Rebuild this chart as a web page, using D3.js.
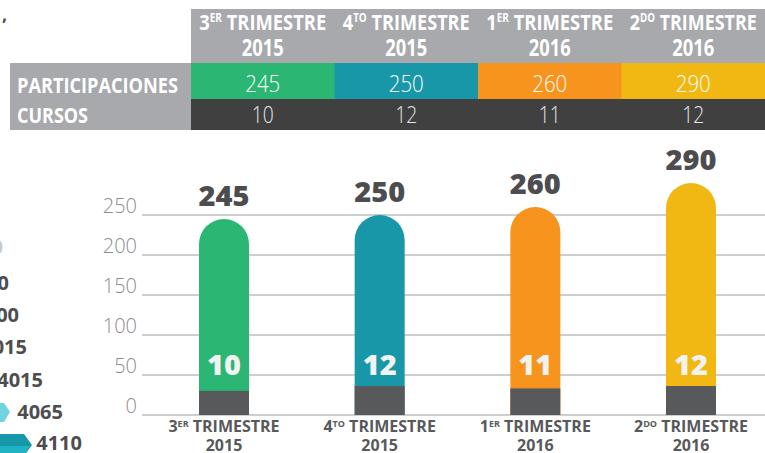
<!DOCTYPE html>
<html>
<head>
<meta charset="utf-8">
<script src="https://cdn.jsdelivr.net/npm/d3@7"></script>
<style>
  body { margin: 0; background: #fff; }
  svg { display: block; font-family: "Open Sans", sans-serif; }
</style>
</head>
<body>
<svg id="chart" width="765" height="453"></svg>
<script>
// Data
const quarterNum = ["3", "4", "1", "2"];
const quarterSup = ["ER", "TO", "ER", "DO"];
const years = ["2015", "2015", "2016", "2016"];
const participaciones = [245, 250, 260, 290];
const cursos = [10, 12, 11, 12];
const barColors = ["#2bb673", "#1897a8", "#f7941d", "#f1b814"];
const yTicks = [0, 50, 100, 150, 200, 250];
const rowLabels = ["PARTICIPACIONES", "CURSOS"];
// cropped labels of the neighbouring graphic on the left edge
const leftFragments = ["0", "0", "00", "015", "4015", "4065", "4110"];

const colors = {
  headerGray: "#a7a9ac",
  darkRow: "#404041",
  darkBar: "#58595b",
  label: "#4d4d4f",
  axisText: "#8c8c8e",
  grid: "#bcbec0"
};

const svg = d3.select("#chart");
const W = 765, H = 453;
svg.append("rect").attr("width", W).attr("height", H).attr("fill", "#fff");

const idx = d3.range(participaciones.length);

// ---- Table ----
const col = d3.scaleBand().domain(idx).range([191, 765]);
const colMid = i => col(i) + col.bandwidth() / 2;

svg.append("rect").attr("x", 191).attr("y", 9).attr("width", 574).attr("height", 54)
  .attr("fill", colors.headerGray);
svg.append("rect").attr("x", 10).attr("y", 63).attr("width", 181).attr("height", 67)
  .attr("fill", colors.headerGray);

svg.selectAll(".pcell").data(idx).enter().append("rect")
  .attr("x", i => col(i)).attr("y", 63)
  .attr("width", col.bandwidth() + 0.5).attr("height", 36)
  .attr("fill", i => barColors[i]);
svg.append("rect").attr("x", 191).attr("y", 99).attr("width", 574).attr("height", 31)
  .attr("fill", colors.darkRow);

// header titles with superscripts
function quarterTitle(sel, supSize, rise) {
  sel.append("tspan").text(i => quarterNum[i]);
  sel.append("tspan").attr("font-size", supSize).attr("dy", -rise).text(i => quarterSup[i]);
  sel.append("tspan").attr("dy", rise).text(" TRIMESTRE");
}

const head1 = svg.selectAll(".head1").data(idx).enter().append("text")
  .attr("x", colMid).attr("y", 30)
  .attr("text-anchor", "middle").attr("fill", "#fff")
  .attr("font-size", 22).attr("font-weight", 700)
  .attr("textLength", 127).attr("lengthAdjust", "spacingAndGlyphs");
quarterTitle(head1, 12, 8);

svg.selectAll(".head2").data(idx).enter().append("text")
  .attr("x", colMid).attr("y", 56)
  .attr("text-anchor", "middle").attr("fill", "#fff")
  .attr("font-size", 23).attr("font-weight", 700)
  .attr("textLength", 42).attr("lengthAdjust", "spacingAndGlyphs")
  .text(i => years[i]);

svg.selectAll(".pval").data(idx).enter().append("text")
  .attr("x", colMid).attr("y", 92)
  .attr("text-anchor", "middle").attr("fill", "#fff")
  .attr("font-size", 24).attr("font-weight", 300)
  .attr("textLength", 35).attr("lengthAdjust", "spacingAndGlyphs")
  .text(i => participaciones[i]);

svg.selectAll(".cval").data(idx).enter().append("text")
  .attr("x", colMid).attr("y", 123)
  .attr("text-anchor", "middle").attr("fill", "#e6e7e8")
  .attr("font-size", 23).attr("font-weight", 300)
  .attr("textLength", 22).attr("lengthAdjust", "spacingAndGlyphs")
  .text(i => cursos[i]);

svg.selectAll(".rowlab").data(rowLabels).enter().append("text")
  .attr("x", 17).attr("y", (d, i) => 93 + i * 30)
  .attr("fill", "#fff").attr("font-size", 22).attr("font-weight", 700)
  .attr("textLength", (d, i) => i === 0 ? 161 : 71).attr("lengthAdjust", "spacingAndGlyphs")
  .text(d => d);

// ---- Bar chart ----
const y = d3.scaleLinear().domain([0, 250]).range([415, 215]);
const x = d3.scalePoint().domain(idx).range([224, 691]);
const barW = 50;
const yCursos = d3.scaleLinear().domain([0, 12]).range([0, 29]);

// grid + tick labels
svg.selectAll(".grid").data(yTicks).enter().append("line")
  .attr("x1", 142).attr("x2", W)
  .attr("y1", d => y(d)).attr("y2", d => y(d))
  .attr("stroke", colors.grid).attr("stroke-width", 1.5);

svg.selectAll(".ytick").data(yTicks).enter().append("text")
  .attr("x", 137).attr("y", d => y(d) - 2)
  .attr("text-anchor", "end").attr("fill", colors.axisText)
  .attr("font-size", 20).attr("font-weight", 300)
  .text(d => d);

// rounded-top bars
function barPath(i) {
  const cx = x(i), r = barW / 2;
  const top = y(participaciones[i]);
  const bottom = y(0);
  return `M${cx - r},${bottom} L${cx - r},${top + r} A${r},${r} 0 0 1 ${cx + r},${top + r} L${cx + r},${bottom} Z`;
}
svg.selectAll(".bar").data(idx).enter().append("path")
  .attr("d", barPath).attr("fill", i => barColors[i]);

svg.selectAll(".cbar").data(idx).enter().append("rect")
  .attr("x", i => x(i) - barW / 2).attr("width", barW)
  .attr("y", i => y(0) - yCursos(cursos[i])).attr("height", i => yCursos(cursos[i]))
  .attr("fill", colors.darkBar);

svg.selectAll(".inner").data(idx).enter().append("text")
  .attr("x", i => x(i)).attr("y", y(50))
  .attr("text-anchor", "middle").attr("fill", "#f1f2f2")
  .attr("font-size", 29).attr("font-weight", 800)
  .text(i => cursos[i]);

svg.selectAll(".toplab").data(idx).enter().append("text")
  .attr("x", i => x(i)).attr("y", i => y(participaciones[i]) - 13)
  .attr("text-anchor", "middle").attr("fill", colors.label)
  .attr("font-size", 29).attr("font-weight", 800)
  .text(i => participaciones[i]);

// x labels
const xl1 = svg.selectAll(".xl1").data(idx).enter().append("text")
  .attr("x", i => x(i)).attr("y", 432)
  .attr("text-anchor", "middle").attr("fill", colors.darkBar)
  .attr("font-size", 16).attr("font-weight", 700);
quarterTitle(xl1, 9, 5);

svg.selectAll(".xl2").data(idx).enter().append("text")
  .attr("x", i => x(i)).attr("y", 451)
  .attr("text-anchor", "middle").attr("fill", colors.darkBar)
  .attr("font-size", 16).attr("font-weight", 700)
  .text(i => years[i]);

// ---- cropped fragments on the left edge ----
svg.append("text").attr("x", 2).attr("y", 21).attr("fill", colors.label)
  .attr("font-size", 18).attr("font-weight", 700).text(",");

const fragEnds = [3, 9, 19, 27, 43, 63, 82];
const fragY = [254, 290, 322, 354, 387, 419, 450];
svg.selectAll(".frag").data(leftFragments).enter().append("text")
  .attr("x", (d, i) => fragEnds[i]).attr("y", (d, i) => fragY[i])
  .attr("text-anchor", "end")
  .attr("fill", (d, i) => i === 0 ? "#c8c8ca" : colors.label)
  .attr("font-size", 20).attr("font-weight", 700)
  .text(d => d);

// arrow shapes
svg.append("path").attr("d", "M0,403 L4,403 L10,412 L4,422 L0,422 Z").attr("fill", "#6fd3e0");
svg.append("path").attr("d", "M0,434 L24,434 L32,445 L24,456 L0,456 Z").attr("fill", "#1897a8");
svg.append("path").attr("d", "M0,446 L30,446 L24,456 L0,456 Z").attr("fill", "#20b3c4");
</script>
</body>
</html>
